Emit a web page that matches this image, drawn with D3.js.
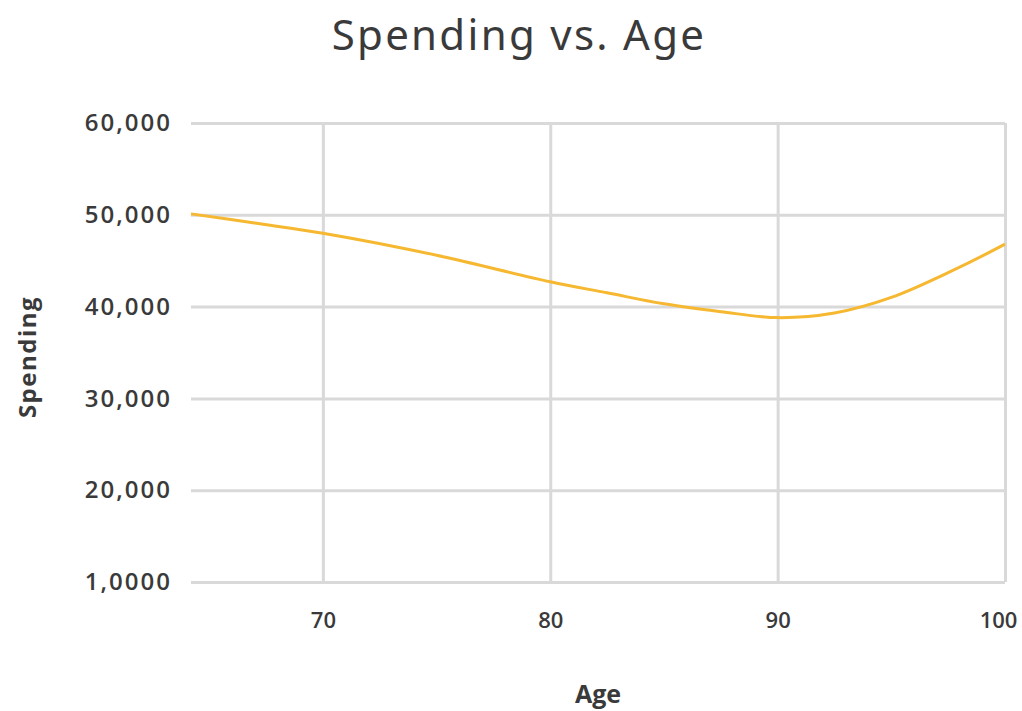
<!DOCTYPE html>
<html>
<head>
<meta charset="utf-8">
<script src="https://cdn.jsdelivr.net/npm/d3@7"></script>
<style>
  html, body { margin: 0; padding: 0; background: #fff; }
  svg { display: block; }
</style>
</head>
<body>
<svg id="chart" width="1022" height="711"></svg>
<script>
// ---- data ----
const ages = [64.2, 67, 70, 75, 80, 82.5, 85, 87.5, 90, 92.5, 95, 97.5, 100];
const spending = [50100, 49100, 48000, 45600, 42700, 41500, 40300, 39450, 38800, 39300, 41000, 43700, 46800];
const xTicks = [70, 80, 90, 100];
const yTicks = [10000, 20000, 30000, 40000, 50000, 60000];
const yTickLabels = ["1,0000", "20,000", "30,000", "40,000", "50,000", "60,000"];
const titleText = "Spending vs. Age";
const xTitle = "Age";
const yTitle = "Spending";

// ---- layout ----
const svg = d3.select("#chart");
const m = { left: 191, right: 1005, top: 123, bottom: 582 };

const x = d3.scaleLinear().domain([64.2, 100]).range([m.left, m.right]);
const y = d3.scaleLinear().domain([10000, 60000]).range([m.bottom, m.top]);

const gridColor = "#d9d9d9";
const textColor = "#3a3a3a";

// horizontal gridlines
const yAxis = d3.axisLeft(y).tickValues(yTicks)
  .tickSize(-(m.right - m.left))
  .tickFormat((d, i) => yTickLabels[i]);
const gy = svg.append("g").attr("transform", `translate(${m.left},0)`).call(yAxis);
gy.select(".domain").remove();
gy.selectAll(".tick line").attr("stroke", gridColor).attr("stroke-width", 3);
gy.selectAll(".tick text")
  .attr("x", -19)
  .attr("fill", textColor)
  .style("font-family", "'Open Sans', sans-serif")
  .style("font-weight", 600)
  .style("font-size", "24px")
  .style("letter-spacing", "2px");

// vertical gridlines
const xAxis = d3.axisBottom(x).tickValues(xTicks)
  .tickSize(-(m.bottom - m.top))
  .tickFormat(d3.format("d"));
const gx = svg.append("g").attr("transform", `translate(0,${m.bottom})`).call(xAxis);
gx.select(".domain").remove();
gx.selectAll(".tick line").attr("stroke", gridColor).attr("stroke-width", 3);
gx.selectAll(".tick text")
  .attr("y", 30)
  .attr("x", d => d === 100 ? -7 : 0)
  .attr("fill", textColor)
  .style("font-family", "'Open Sans', sans-serif")
  .style("font-weight", 600)
  .style("font-size", "22px");

// line
const line = d3.line()
  .x((d, i) => x(ages[i]))
  .y(d => y(d))
  .curve(d3.curveCatmullRom.alpha(0.5));
svg.append("path")
  .datum(spending)
  .attr("fill", "none")
  .attr("stroke", "#f5b830")
  .attr("stroke-width", 3)
  .attr("d", line);

// titles
svg.append("text")
  .attr("x", 519).attr("y", 50)
  .attr("text-anchor", "middle")
  .attr("fill", textColor)
  .style("font-family", "'Noto Sans', sans-serif")
  .style("font-size", "42px")
  .style("letter-spacing", "2.3px")
  .text(titleText);

svg.append("text")
  .attr("x", 598).attr("y", 703)
  .attr("text-anchor", "middle")
  .attr("fill", textColor)
  .style("font-family", "'Open Sans', sans-serif")
  .style("font-weight", 700)
  .style("font-size", "25px")
  .text(xTitle);

svg.append("text")
  .attr("transform", "translate(36,357) rotate(-90)")
  .attr("text-anchor", "middle")
  .attr("fill", textColor)
  .style("font-family", "'Open Sans', sans-serif")
  .style("font-weight", 700)
  .style("font-size", "24px")
  .style("letter-spacing", "1.5px")
  .text(yTitle);
</script>
</body>
</html>
